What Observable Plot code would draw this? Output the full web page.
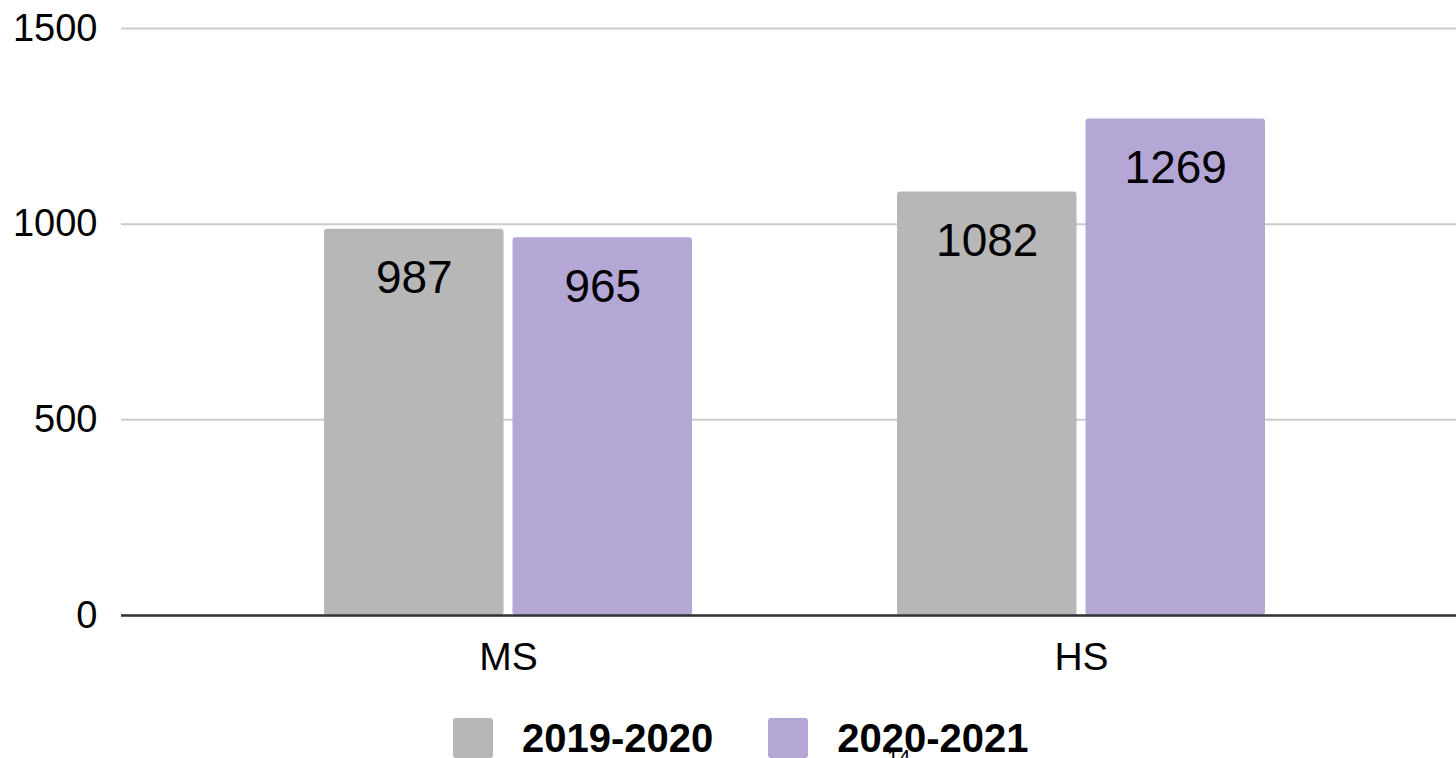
<!DOCTYPE html>
<html>
<head>
<meta charset="utf-8">
<script src="https://cdn.jsdelivr.net/npm/d3@7"></script>
<script src="https://cdn.jsdelivr.net/npm/@observablehq/plot@0.6"></script>
<style>
  html, body { margin: 0; padding: 0; background: #fff; overflow: hidden; width: 1456px; height: 758px; }
  body { position: relative; font-family: "Liberation Sans", Arial, sans-serif; }
  #chart { position: absolute; left: 0; top: 0; width: 1467px; }
  #chart svg { max-width: none !important; }
  #legend { position: absolute; top: 718px; left: 453px; display: flex; align-items: center; height: 40px; }
  .item { display: flex; align-items: center; margin-right: 55px; }
  .sw { width: 40px; height: 40px; border-radius: 3px; margin-right: 29px; }
  .lab { font-weight: bold; font-size: 40px; color: #000; line-height: 40px; }
  #page { position: absolute; left: 887px; top: 746px; font-size: 21px; line-height: 1; color: #000; }
</style>
</head>
<body>
<div id="chart"></div>
<div id="legend"></div>
<div id="page">14</div>
<script>
const categories = ["MS", "HS"];
const seriesNames = ["2019-2020", "2020-2021"];
const values2019 = [987, 1082];
const values2020 = [965, 1269];
const yTicks = [0, 500, 1000, 1500];
const colors = ["#b7b7b7", "#b4a7d6"];

const data2019 = categories.map((c, i) => ({category: c, series: seriesNames[0], value: values2019[i]}));
const data2020 = categories.map((c, i) => ({category: c, series: seriesNames[1], value: values2020[i]}));

const half = 188.5;
const offset = 94.25;

const chart = Plot.plot({
  width: 1467,
  height: 700,
  marginLeft: 121,
  marginRight: 0,
  marginTop: 28,
  marginBottom: 85,
  style: { fontFamily: "'Liberation Sans', Arial, sans-serif", color: "#000", background: "#fff", maxWidth: "none" },
  x: { domain: categories, paddingInner: 0.358, paddingOuter: 0.353, label: null },
  y: { domain: [0, 1500], label: null },
  marks: [
    Plot.gridY(yTicks, { stroke: "#cccccc", strokeWidth: 2, strokeOpacity: 1 }),
    Plot.barY(data2019, { x: "category", y: "value", fill: colors[0], insetRight: half, rx: 3 }),
    Plot.barY(data2020, { x: "category", y: "value", fill: colors[1], insetLeft: half, rx: 3 }),
    Plot.ruleY([0], { stroke: "#333333", strokeWidth: 2.5 }),
    Plot.text(data2019, { x: "category", y: "value", text: d => String(d.value), dx: -offset, dy: 31, lineAnchor: "top", fontSize: 46, fill: "#000" }),
    Plot.text(data2020, { x: "category", y: "value", text: d => String(d.value), dx: offset, dy: 31, lineAnchor: "top", fontSize: 46, fill: "#000" }),
    Plot.axisY(yTicks, { tickSize: 0, tickPadding: 24, fontSize: 38, label: null, tickFormat: d => String(d) }),
    Plot.axisX({ tickSize: 0, tickPadding: 27, fontSize: 39, label: null })
  ]
});
document.getElementById("chart").appendChild(chart);

const legend = document.getElementById("legend");
seriesNames.forEach((s, i) => {
  const item = document.createElement("div");
  item.className = "item";
  const sw = document.createElement("div");
  sw.className = "sw";
  sw.style.background = colors[i];
  const lab = document.createElement("div");
  lab.className = "lab";
  lab.textContent = s;
  item.appendChild(sw);
  item.appendChild(lab);
  legend.appendChild(item);
});
</script>
</body>
</html>
